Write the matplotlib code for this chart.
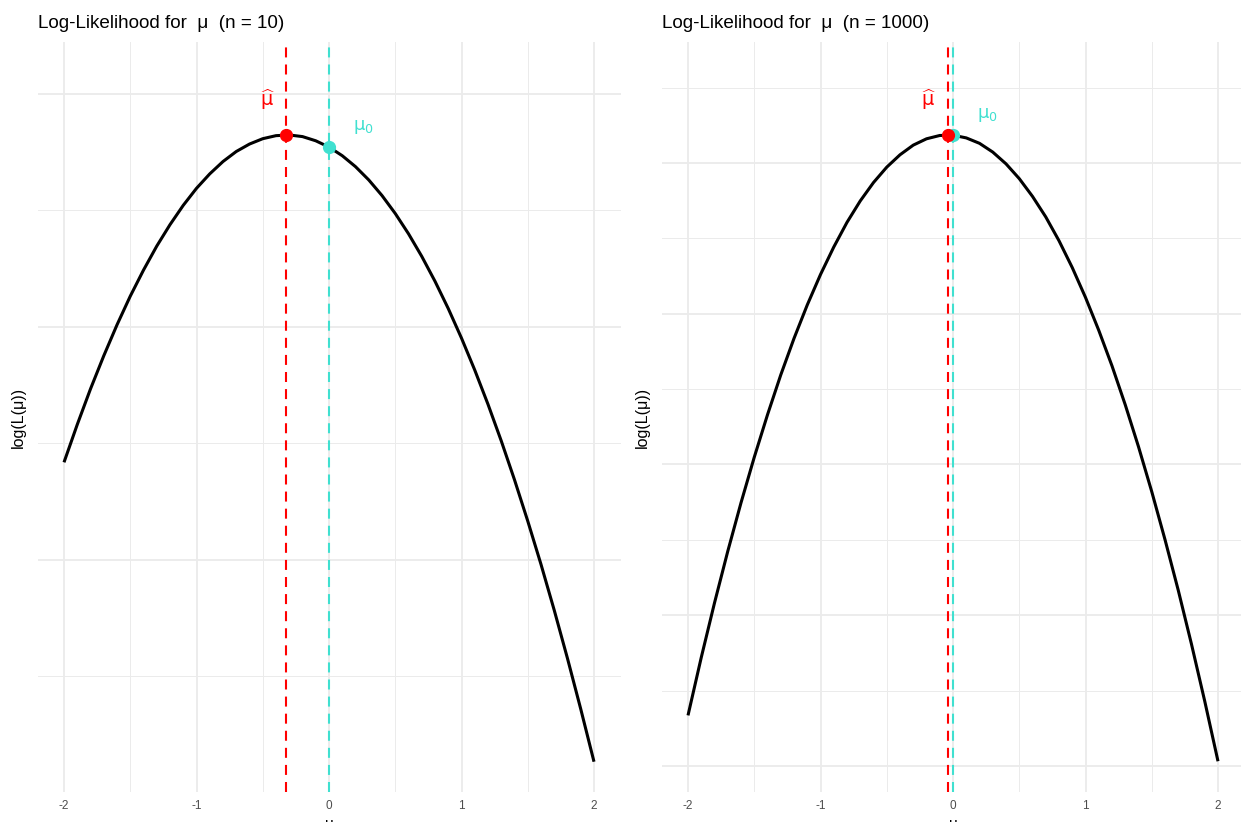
import matplotlib
matplotlib.use("Agg")
import matplotlib.pyplot as plt
import numpy as np

plt.rcParams['font.family'] = ['Liberation Sans', 'DejaVu Sans']
plt.rcParams['axes.unicode_minus'] = False

# mu grid and log-likelihood values
mu = [-2.0, -1.9, -1.8, -1.7, -1.6, -1.5, -1.4, -1.3, -1.2, -1.1, -1.0,
      -0.9, -0.8, -0.7, -0.6, -0.5, -0.4, -0.3, -0.2, -0.1, 0.0,
      0.1, 0.2, 0.3, 0.4, 0.5, 0.6, 0.7, 0.8, 0.9, 1.0,
      1.1, 1.2, 1.3, 1.4, 1.5, 1.6, 1.7, 1.8, 1.9, 2.0]

ll_n10 = [-25.81, -24.19, -22.66, -21.24, -19.91, -18.68, -17.56, -16.53, -15.61, -14.78, -14.05,
          -13.43, -12.90, -12.47, -12.15, -11.92, -11.79, -11.76, -11.83, -12.01, -12.28,
          -12.65, -13.12, -13.69, -14.36, -15.13, -16.00, -16.97, -18.04, -19.21, -20.48,
          -21.85, -23.32, -24.89, -26.56, -28.33, -30.19, -32.16, -34.23, -36.40, -38.66]

ll_n1000 = [-3332, -3140, -2959, -2788, -2627, -2476, -2335, -2203, -2082, -1971, -1870,
            -1779, -1697, -1626, -1565, -1514, -1473, -1441, -1420, -1409, -1408,
            -1417, -1435, -1464, -1503, -1552, -1611, -1679, -1758, -1847, -1946,
            -2055, -2173, -2302, -2441, -2590, -2749, -2917, -3096, -3285, -3484]

mu_hat = [-0.322, -0.038]
ll_hat = [-11.76, -1407]
mu0 = 0.0
ll_mu0 = [-12.28, -1408]
n_vals = [10, 1000]

# label positions (data coords)
hat_lab = [(-0.46, -10.26), (-0.18, -1291)]
mu0_lab = [(0.26, -11.42), (0.26, -1341)]

ylims = [(-39.96, -7.77), (-3586, -1099)]
y_major = [[-30, -20, -10], [-3500, -3000, -2500, -2000, -1500]]
y_minor = [[-35, -25, -15], [-3250, -2750, -2250, -1750, -1250]]

RED = "#FF0000"
TURQ = "#40E0D0"
GRID = "#EBEBEB"

W, H = 1241, 822
fig = plt.figure(figsize=(W / 100, H / 100), dpi=100)

lefts = [37.5, 661.5]
curves = [ll_n10, ll_n1000]
for i in range(2):
    ax = fig.add_axes([lefts[i] / W, 1 - 792 / H, 583 / W, 750 / H])
    for s in ax.spines.values():
        s.set_visible(False)
    ax.set_xlim(-2.2, 2.2)
    ax.set_ylim(*ylims[i])
    ax.set_xticks([-2, -1, 0, 1, 2])
    ax.set_xticks([-1.5, -0.5, 0.5, 1.5], minor=True)
    ax.set_yticks(y_major[i])
    ax.set_yticks(y_minor[i], minor=True)
    ax.set_yticklabels([])
    ax.grid(which='major', color=GRID, lw=1.3)
    ax.grid(which='minor', color=GRID, lw=0.7)
    ax.set_axisbelow(True)
    ax.tick_params(which='both', length=0)
    ax.tick_params(axis='x', labelsize=8.5, labelcolor='#4D4D4D', pad=6)

    ax.plot(mu, curves[i], color='black', lw=2.2, solid_capstyle='butt', zorder=3)
    ax.axvline(mu_hat[i], color=RED, lw=1.5, dashes=(4.8, 3.4), zorder=4)
    ax.axvline(mu0, color=TURQ, lw=1.5, dashes=(4.8, 3.4), zorder=4)
    ax.plot([mu0], [ll_mu0[i]], 'o', color=TURQ, ms=8.5, zorder=5)
    ax.plot([mu_hat[i]], [ll_hat[i]], 'o', color=RED, ms=8.5, zorder=6)

    ax.text(hat_lab[i][0], hat_lab[i][1], r"$\widehat{\mathrm{\mu}}$", color=RED,
            fontsize=14, ha='center', va='center', zorder=7)
    ax.text(mu0_lab[i][0], mu0_lab[i][1], r"$\mathrm{\mu}_0$", color=TURQ,
            fontsize=13, ha='center', va='center', zorder=7)

    ax.set_title("Log-Likelihood for  \u03bc  (n = %d)" % n_vals[i], loc='left',
                 fontsize=13.6, pad=10)
    ax.set_ylabel("log(L(\u03bc))", fontsize=11.5, labelpad=5)
    ax.set_xlabel("\u03bc", fontsize=11, labelpad=3)

fig.savefig("out.png", dpi=100)
